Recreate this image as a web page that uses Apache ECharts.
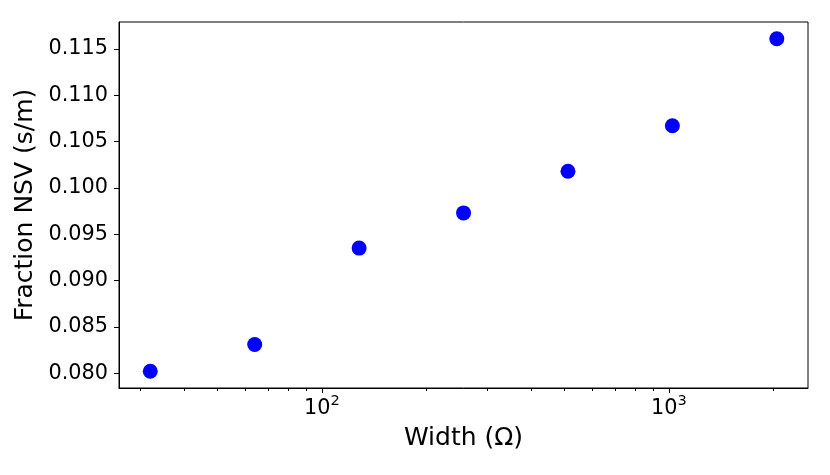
<!DOCTYPE html>
<html>
<head>
<meta charset="utf-8">
<script src="https://cdn.jsdelivr.net/npm/echarts@6/dist/echarts.min.js"></script>
<style>
  html, body { margin: 0; padding: 0; background: #fff; }
  #chart { width: 830px; height: 475px; }
</style>
</head>
<body>
<div id="chart"></div>
<script>
// Data
const widths = [32, 64, 128, 256, 512, 1024, 2048];
const fractionNSV = [0.0802, 0.0831, 0.0935, 0.0973, 0.1018, 0.1067, 0.1161];
// Ticks
const xMajorTicks = [100, 1000];
const xMinorTicks = [30, 40, 50, 60, 70, 80, 90, 200, 300, 400, 500, 600, 700, 800, 900, 2000];
const yTicks = [0.080, 0.085, 0.090, 0.095, 0.100, 0.105, 0.110, 0.115];
// Axis ranges
const xRange = [26.0, 2519];
const yRange = [0.0784, 0.1179];

const FONT = 'DejaVu Sans';
const chart = echarts.init(document.getElementById('chart'), null, { renderer: 'canvas' });

const points = widths.map((w, i) => [w, fractionNSV[i]]);

chart.setOption({
  animation: false,
  backgroundColor: '#ffffff',
  grid: {
    left: 119, right: 22, top: 22, bottom: 87,
    show: true, borderColor: '#000', borderWidth: 1, backgroundColor: 'transparent'
  },
  xAxis: [
    {
      type: 'log', logBase: 10, min: xRange[0], max: xRange[1],
      name: 'Width (Ω)', nameLocation: 'middle', nameGap: 38,
      nameTextStyle: { fontFamily: FONT, fontSize: 25, color: '#000' },
      axisLine: { show: true, lineStyle: { color: '#000', width: 1 } },
      axisTick: { show: true, customValues: xMajorTicks, length: 5, lineStyle: { color: '#000', width: 1 } },
      splitLine: { show: false },
      minorTick: { show: false },
      axisLabel: {
        customValues: xMajorTicks, margin: 6,
        formatter: function (v) {
          const e = Math.round(Math.log10(v));
          return '{b|10}{s|' + e + '}';
        },
        rich: {
          b: { fontFamily: FONT, fontSize: 20.8, color: '#000', lineHeight: 25, verticalAlign: 'bottom' },
          s: { fontFamily: FONT, fontSize: 14.6, color: '#000', lineHeight: 15, verticalAlign: 'top' }
        }
      }
    },
    {
      type: 'log', logBase: 10, min: xRange[0], max: xRange[1], position: 'bottom',
      axisLine: { show: false },
      axisTick: { show: true, customValues: xMinorTicks, length: 3, lineStyle: { color: '#000', width: 1 } },
      axisLabel: { show: false },
      splitLine: { show: false }
    }
  ],
  yAxis: {
    type: 'value', min: yRange[0], max: yRange[1],
    name: 'Fraction NSV (s/m)', nameLocation: 'middle', nameGap: 75, nameRotate: 90,
    nameTextStyle: { fontFamily: FONT, fontSize: 25, color: '#000' },
    axisLine: { show: true, lineStyle: { color: '#000', width: 1 } },
    axisTick: { show: true, customValues: yTicks, length: 5, lineStyle: { color: '#000', width: 1 } },
    splitLine: { show: false },
    axisLabel: {
      customValues: yTicks, margin: 11,
      fontFamily: FONT, fontSize: 20.8, color: '#000',
      formatter: function (v) { return v.toFixed(3); }
    }
  },
  series: [{
    type: 'scatter',
    xAxisIndex: 0, yAxisIndex: 0,
    data: points,
    symbol: 'circle', symbolSize: 15,
    itemStyle: { color: '#0000ff', opacity: 1 }
  }]
});
</script>
</body>
</html>
